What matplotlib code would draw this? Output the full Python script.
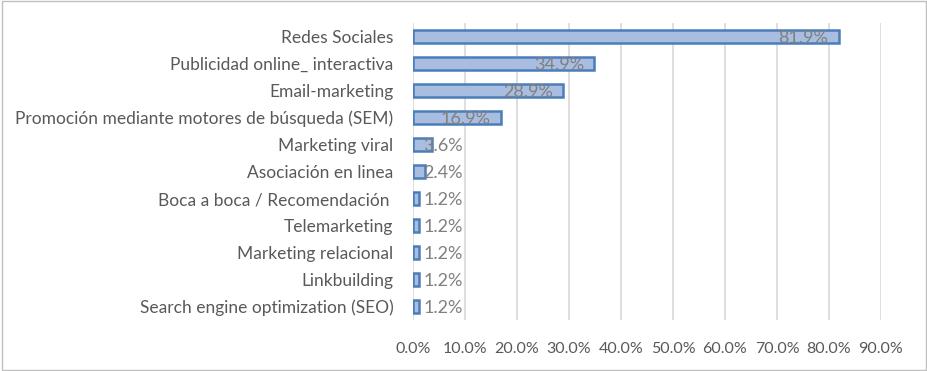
import numpy as np
import matplotlib.pyplot as plt
from matplotlib.patches import Rectangle

# data, top to bottom as shown
categories = ["Redes Sociales", "Publicidad online_ interactiva", "Email-marketing",
              "Promoción mediante motores de búsqueda (SEM)", "Marketing viral",
              "Asociación en linea", "Boca a boca / Recomendación ", "Telemarketing",
              "Marketing relacional", "Linkbuilding", "Search engine optimization (SEO)"]
values = [81.9, 34.9, 28.9, 16.9, 3.6, 2.4, 1.2, 1.2, 1.2, 1.2, 1.2]
xticks = np.arange(0, 91, 10)

plt.rcParams['font.family'] = ['Lato', 'DejaVu Sans']

fig = plt.figure(figsize=(9.28, 3.71), dpi=100)
ax = fig.add_axes([413 / 928, 1 - 320 / 371, 468 / 928, 297 / 371])

ypos = np.arange(len(categories))[::-1]
ax.barh(ypos, values, height=0.5, color='#a9bde0', edgecolor='#4a7ebb', linewidth=1.8, zorder=3)

# value labels: inside end for long bars, just right of the axis for short ones
for y, v in zip(ypos, values):
    txt = "%.1f%%" % v
    if v > 10:
        ax.text(v - 2.0, y - 0.05, txt, ha='right', va='center', fontsize=13, color='#808080', zorder=4)
    else:
        ax.text(2.0, y - 0.05, txt, ha='left', va='center', fontsize=13, color='#808080', zorder=4)

ax.set_xlim(0, 90)
ax.set_ylim(-0.5, len(categories) - 0.5)
ax.set_xticks(xticks)
ax.set_xticklabels(["%.1f%%" % t for t in xticks], fontsize=11.5, color='#595959')
ax.set_yticks(ypos)
ax.set_yticklabels(categories, fontsize=12.5, color='#595959')
ax.tick_params(axis='x', length=0, pad=16)
ax.tick_params(axis='y', length=0, pad=14)
ax.grid(axis='x', color='#d9d9d9', linewidth=1.2, zorder=0)
for s in ax.spines.values():
    s.set_visible(False)

# chart border
fig.patches.append(Rectangle((0.002, 0.003), 0.996, 0.994, transform=fig.transFigure,
                             fill=False, edgecolor='#bfbfbf', linewidth=1))

fig.savefig("out.png", dpi=100)
